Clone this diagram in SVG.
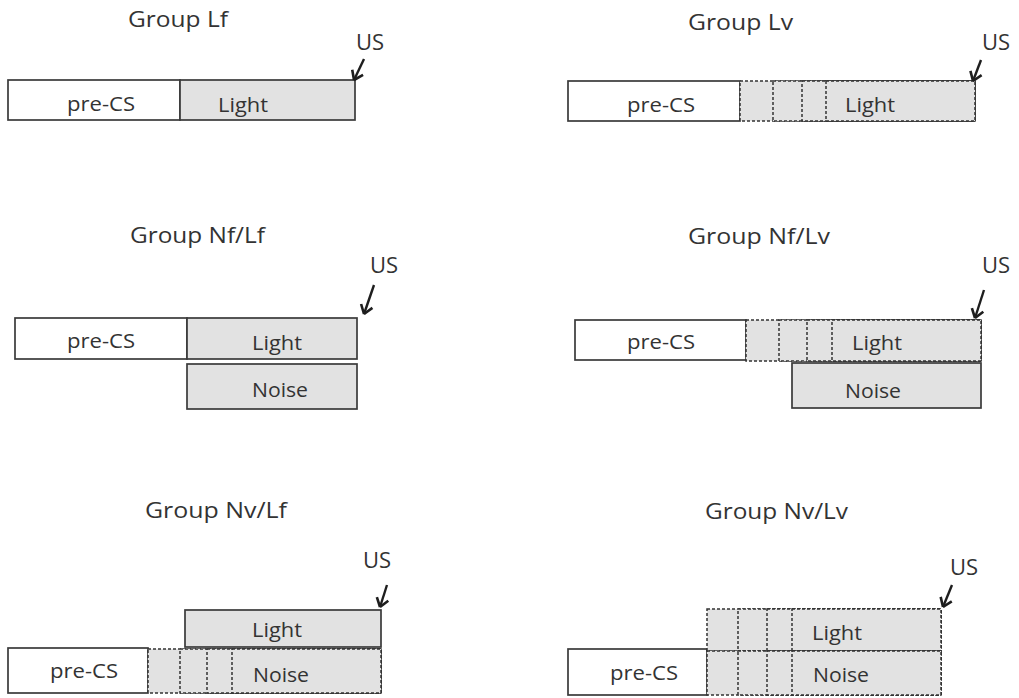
<svg xmlns="http://www.w3.org/2000/svg" width="1019" height="698" viewBox="0 0 1019 698">
<style>
text{font-family:"Open Sans","Liberation Sans",Arial,sans-serif;fill:#333}
.t{font-size:21px}
.us{font-size:22px}
.l{font-size:20px;text-anchor:middle}
.w{fill:#fff;stroke:#3a3a3a;stroke-width:1.7}
.g{fill:#e2e2e2;stroke:#3a3a3a;stroke-width:1.7}
.d{fill:#e2e2e2;stroke:#333;stroke-width:1.5;stroke-dasharray:3 2}
.a{fill:none;stroke:#1e1e1e;stroke-width:2.4}
</style>
<defs>
<marker id="h" markerUnits="userSpaceOnUse" markerWidth="20" markerHeight="20" refX="10" refY="10" orient="auto" overflow="visible">
<path d="M10,10 L1.5,4 M10,10 L1.5,16" fill="none" stroke="#1e1e1e" stroke-width="2.6"/>
</marker>
</defs>

<g id="title-lf"><text class="t" x="128" y="27" textLength="100" lengthAdjust="spacingAndGlyphs">Group Lf</text></g>
<g id="us-lf"><text class="us" x="356" y="50">US</text></g>
<g id="lf-precs"><rect class="w" x="8" y="80" width="172" height="40"/><text class="l" x="101" y="111" textLength="68" lengthAdjust="spacingAndGlyphs">pre-CS</text></g>
<g id="lf-light"><rect class="g" x="180" y="80" width="175" height="40"/><text class="l" x="243" y="112" textLength="50" lengthAdjust="spacingAndGlyphs">Light</text></g>

<g id="title-lv"><text class="t" x="688" y="30" textLength="105" lengthAdjust="spacingAndGlyphs">Group Lv</text></g>
<g id="us-lv"><text class="us" x="982" y="50">US</text></g>
<g id="lv-precs"><rect class="w" x="568" y="81" width="172" height="40"/><text class="l" x="661" y="112" textLength="68" lengthAdjust="spacingAndGlyphs">pre-CS</text></g>
<g id="lv-light"><rect class="d" x="740" y="81" width="235" height="40"/><rect class="d" x="773" y="81" width="202" height="40"/><rect class="d" x="802" y="81" width="173" height="40"/><rect class="d" x="826" y="81" width="149" height="40"/><text class="l" x="870" y="112" textLength="50" lengthAdjust="spacingAndGlyphs">Light</text></g>

<g id="title-nflf"><text class="t" x="130" y="243" textLength="135" lengthAdjust="spacingAndGlyphs">Group Nf/Lf</text></g>
<g id="us-nflf"><text class="us" x="370" y="273">US</text></g>
<g id="nflf-precs"><rect class="w" x="15" y="318" width="172" height="41"/><text class="l" x="101" y="348" textLength="68" lengthAdjust="spacingAndGlyphs">pre-CS</text></g>
<g id="nflf-light"><rect class="g" x="187" y="318" width="170" height="41"/><text class="l" x="277" y="350" textLength="50" lengthAdjust="spacingAndGlyphs">Light</text></g>
<g id="nflf-noise"><rect class="g" x="187" y="364" width="170" height="45"/><text class="l" x="280" y="397" textLength="56" lengthAdjust="spacingAndGlyphs">Noise</text></g>

<g id="title-nflv"><text class="t" x="688" y="244" textLength="142" lengthAdjust="spacingAndGlyphs">Group Nf/Lv</text></g>
<g id="us-nflv"><text class="us" x="982" y="273">US</text></g>
<g id="nflv-precs"><rect class="w" x="575" y="320" width="171" height="40"/><text class="l" x="661" y="349" textLength="68" lengthAdjust="spacingAndGlyphs">pre-CS</text></g>
<g id="nflv-light"><rect class="d" x="746" y="320" width="235" height="41"/><rect class="d" x="779" y="320" width="202" height="41"/><rect class="d" x="807" y="320" width="174" height="41"/><rect class="d" x="832" y="320" width="149" height="41"/><text class="l" x="877" y="350" textLength="50" lengthAdjust="spacingAndGlyphs">Light</text></g>
<g id="nflv-noise"><rect class="g" x="792" y="363" width="189" height="45"/><text class="l" x="873" y="398" textLength="56" lengthAdjust="spacingAndGlyphs">Noise</text></g>

<g id="title-nvlf"><text class="t" x="145" y="518" textLength="142" lengthAdjust="spacingAndGlyphs">Group Nv/Lf</text></g>
<g id="us-nvlf"><text class="us" x="363" y="568">US</text></g>
<g id="nvlf-precs"><rect class="w" x="8" y="648" width="140" height="45"/><text class="l" x="84" y="678" textLength="68" lengthAdjust="spacingAndGlyphs">pre-CS</text></g>
<g id="nvlf-light"><rect class="g" x="185" y="610" width="196" height="37"/><text class="l" x="277" y="637" textLength="50" lengthAdjust="spacingAndGlyphs">Light</text></g>
<g id="nvlf-noise"><rect class="d" x="148" y="649" width="233" height="44"/><rect class="d" x="180" y="649" width="201" height="44"/><rect class="d" x="207" y="649" width="174" height="44"/><rect class="d" x="232" y="649" width="149" height="44"/><text class="l" x="281" y="682" textLength="56" lengthAdjust="spacingAndGlyphs">Noise</text></g>

<g id="title-nvlv"><text class="t" x="705" y="519" textLength="143" lengthAdjust="spacingAndGlyphs">Group Nv/Lv</text></g>
<g id="us-nvlv"><text class="us" x="950" y="575">US</text></g>
<g id="nvlv-precs"><rect class="w" x="568" y="649" width="139" height="46"/><text class="l" x="644" y="680" textLength="68" lengthAdjust="spacingAndGlyphs">pre-CS</text></g>
<g id="nvlv-light"><rect class="d" x="707" y="609" width="234" height="42"/><rect class="d" x="738" y="609" width="203" height="42"/><rect class="d" x="767" y="609" width="174" height="42"/><rect class="d" x="792" y="609" width="149" height="42"/><text class="l" x="837" y="640" textLength="50" lengthAdjust="spacingAndGlyphs">Light</text></g>
<g id="nvlv-noise"><rect class="d" x="707" y="651" width="234" height="44"/><rect class="d" x="738" y="651" width="203" height="44"/><rect class="d" x="767" y="651" width="174" height="44"/><rect class="d" x="792" y="651" width="149" height="44"/><text class="l" x="841" y="682" textLength="56" lengthAdjust="spacingAndGlyphs">Noise</text></g>

<g id="connectors">
<path class="a" d="M364,59 L354,80" marker-end="url(#h)"/>
<path class="a" d="M981,60 L973,81" marker-end="url(#h)"/>
<path class="a" d="M374,285 L364,314" marker-end="url(#h)"/>
<path class="a" d="M984,290 L975,318" marker-end="url(#h)"/>
<path class="a" d="M387,585 L380,607" marker-end="url(#h)"/>
<path class="a" d="M952,585 L943,607" marker-end="url(#h)"/>
</g>
</svg>
